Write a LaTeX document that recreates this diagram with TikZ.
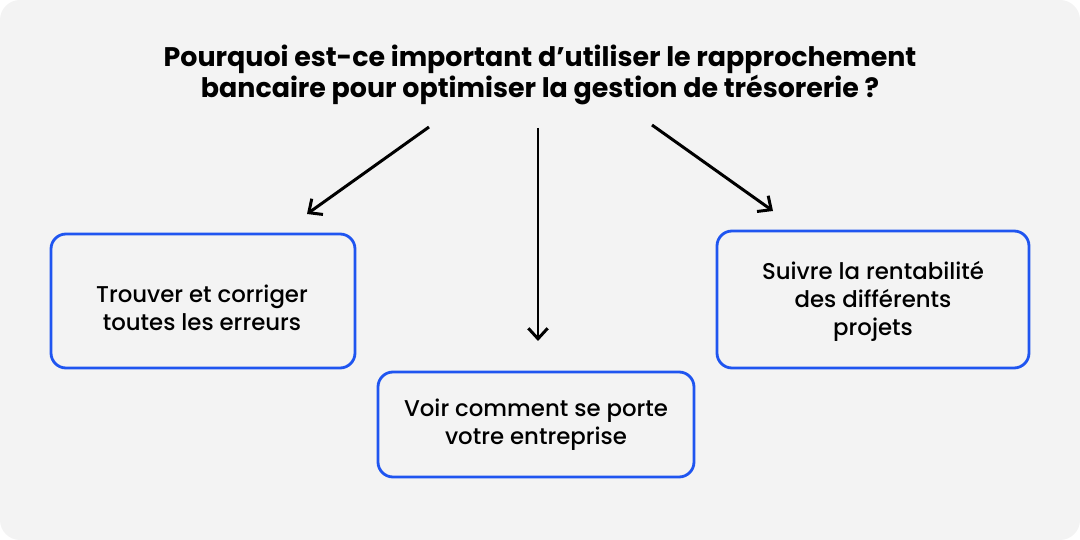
\documentclass[tikz,border=0pt]{standalone}
\usepackage{fontspec}
\setmainfont{Poppins}
\newfontfamily\medfont{Poppins}[UprightFont={* Medium}]
\usepackage{tikz}
\usetikzlibrary{arrows.meta}
\usetikzlibrary{positioning}
\definecolor{mgrey}{HTML}{F3F3F3}
\definecolor{mblue}{HTML}{1F55F0}

\begin{document}
\begin{tikzpicture}[x=0.02cm, y=-0.02cm]
      \useasboundingbox (0, 0) rectangle (1080, 540);
      \fill [mgrey, rounded corners=0.4cm] (0, 0) rectangle (1080, 540);
      % question
      \node [align=center, font=\bfseries\fontsize{15.3}{17.6}\selectfont] (question) at (540, 75)
        {Pourquoi est-ce important d’utiliser le rapprochement\\bancaire pour optimiser la gestion de trésorerie ?};
      % answers
      \draw [mblue, line width=1.6pt, rounded corners=0.3cm] (51, 234) rectangle (355, 368);
      \draw [mblue, line width=1.6pt, rounded corners=0.3cm] (378, 372) rectangle (694, 477);
      \draw [mblue, line width=1.6pt, rounded corners=0.3cm] (717, 231) rectangle (1029, 368);
      \node [align=center, font=\medfont\fontsize{13}{15.9}\selectfont] (errors) at (202, 308)
        {Trouver et corriger\\toutes les erreurs};
      \node [align=center, font=\medfont\fontsize{13}{15.9}\selectfont] (health) at (536, 425)
        {Voir comment se porte\\votre entreprise};
      \node [align=center, font=\medfont\fontsize{13}{15.9}\selectfont] (projects) at (873, 301)
        {Suivre la rentabilité\\des différents\\projets};
      % arrows
      \coordinate (a1s) at (429, 127);
      \coordinate (a1e) at (307, 214);
      \coordinate (a2s) at (538, 128);
      \coordinate (a2e) at (538, 341);
      \coordinate (a3s) at (652, 125);
      \coordinate (a3e) at (773, 211);
      \draw [-{Straight Barb[length=6pt, width=11pt]}, line width=1.7pt] (a1s) -- (a1e);
      \draw [-{Straight Barb[length=6pt, width=11pt]}, line width=1.7pt] (a2s) -- (a2e);
      \draw [-{Straight Barb[length=6pt, width=11pt]}, line width=1.7pt] (a3s) -- (a3e);
    \end{tikzpicture}
\end{document}
